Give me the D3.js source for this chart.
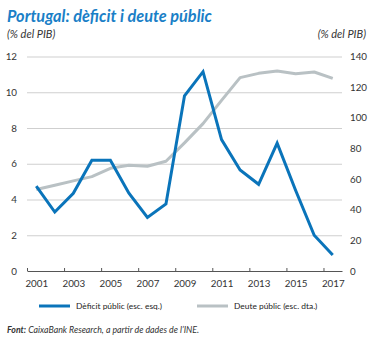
<!DOCTYPE html>
<meta charset="utf-8">
<head>
	<title>Portugal: dèficit i deute públic</title>
	<script src="https://cdnjs.cloudflare.com/ajax/libs/d3/7.8.5/d3.min.js"></script>
</head>
<style type="text/css">
	body { margin: 0; background: #fff; font-family: Lato, "Open Sans", sans-serif; }
	.tick text { fill: #333; font-size: 9.8px; font-family: Lato, sans-serif; }
	.grid line { stroke: #cfcfcf; }
	.grid .domain { display: none; }
</style>
<body>
<div id="chart"></div>
<script>
	// data
	var years = d3.range(2001, 2018);
	var deficit = [4.75, 3.3, 4.35, 6.2, 6.2, 4.35, 3.0, 3.75, 9.8, 11.15, 7.35, 5.65, 4.85, 7.15, 4.5, 2.0, 0.9];
	var debt = [53.2, 56.0, 58.8, 61.6, 67.0, 69.0, 68.4, 71.6, 83.6, 96.2, 111.4, 126.2, 129.0, 130.6, 128.8, 129.9, 125.7];
	var leftTicks = [0, 2, 4, 6, 8, 10, 12];
	var rightTicks = [0, 20, 40, 60, 80, 100, 120, 140];
	var labelYears = [2001, 2003, 2005, 2007, 2009, 2011, 2013, 2015, 2017];

	var W = 384, H = 338;
	// plot box (don't call these top/left: window.top is read-only)
	var pL = 27, pR = 342, pT = 56.5, pB = 271;
	var blue = "#0a74ba", grey = "#b9c1c4";

	var svg = d3.select("#chart").append("svg")
		.attr("width", W).attr("height", H);

	var x = d3.scaleLinear().domain([2000.5, 2017.5]).range([pL, pR]);
	var yL = d3.scaleLinear().domain([0, 12]).range([pB, pT]);
	var yR = d3.scaleLinear().domain([0, 140]).range([pB, pT]);

	// title + units
	svg.append("text")
		.attr("x", 7).attr("y", 22)
		.attr("fill", "#1a7fc7")
		.style("font-size", "16.3px").style("font-weight", "bold").style("font-style", "italic")
		.text("Portugal: dèficit i deute públic");

	svg.append("text")
		.attr("x", 7).attr("y", 38)
		.attr("fill", "#333").style("font-size", "11px").style("font-style", "italic")
		.text("(% del PIB)");
	svg.append("text")
		.attr("x", 366).attr("y", 38).attr("text-anchor", "end")
		.attr("fill", "#333").style("font-size", "11px").style("font-style", "italic")
		.text("(% del PIB)");

	// gridlines from the left scale
	svg.append("g")
		.attr("class", "grid")
		.attr("transform", "translate(" + pL + ",0)")
		.call(d3.axisRight(yL).tickValues(leftTicks.slice(1)).tickSize(pR - pL).tickFormat(""));

	// left axis labels
	var gl = svg.append("g")
		.attr("transform", "translate(17,0)")
		.call(d3.axisLeft(yL).tickValues(leftTicks).tickSize(0).tickPadding(0));
	gl.select(".domain").remove();

	// right axis labels
	var gr = svg.append("g")
		.attr("transform", "translate(350,0)")
		.call(d3.axisRight(yR).tickValues(rightTicks).tickSize(0).tickPadding(0));
	gr.select(".domain").remove();

	// x axis: ticks between every second year, labels on odd years
	var edges = d3.range(2000.5, 2017, 2);
	var gx = svg.append("g")
		.attr("transform", "translate(0," + pB + ")")
		.call(d3.axisBottom(x).tickValues(edges).tickSize(-3).tickSizeOuter(0).tickFormat(""));
	gx.select(".domain").attr("stroke", "#555");
	gx.selectAll(".tick line").attr("stroke", "#555");

	var gxl = svg.append("g")
		.attr("transform", "translate(0," + pB + ")")
		.call(d3.axisBottom(x).tickValues(labelYears).tickSize(0).tickPadding(9).tickFormat(d3.format("d")));
	gxl.select(".domain").remove();

	// lines
	var lineL = d3.line().x(function(d, i) { return x(years[i]); }).y(function(d) { return yL(d); });
	var lineR = d3.line().x(function(d, i) { return x(years[i]); }).y(function(d) { return yR(d); });

	svg.append("path").datum(debt)
		.attr("d", lineR).attr("fill", "none")
		.attr("stroke", grey).attr("stroke-width", 3).attr("stroke-linejoin", "round");

	svg.append("path").datum(deficit)
		.attr("d", lineL).attr("fill", "none")
		.attr("stroke", blue).attr("stroke-width", 3).attr("stroke-linejoin", "miter");

	// legend
	var legend = [
		{label: "Dèficit públic (esc. esq.)", color: blue, x: 39},
		{label: "Deute públic (esc. dta.)", color: grey, x: 197}
	];
	var lg = svg.selectAll(".lg").data(legend).enter().append("g")
		.attr("transform", function(d) { return "translate(" + d.x + ",306)"; });
	lg.append("line").attr("x1", 0).attr("x2", 31)
		.attr("stroke", function(d) { return d.color; }).attr("stroke-width", 3);
	lg.append("text").attr("x", 37).attr("y", 3)
		.attr("fill", "#222").style("font-size", "8.4px")
		.text(function(d) { return d.label; });

	// source
	var src = svg.append("text").attr("x", 7).attr("y", 333)
		.attr("fill", "#333").style("font-size", "8.8px").style("font-style", "italic");
	src.append("tspan").style("font-weight", "bold").text("Font:");
	src.append("tspan").text(" CaixaBank Research, a partir de dades de l’INE.");
</script>
</body>
